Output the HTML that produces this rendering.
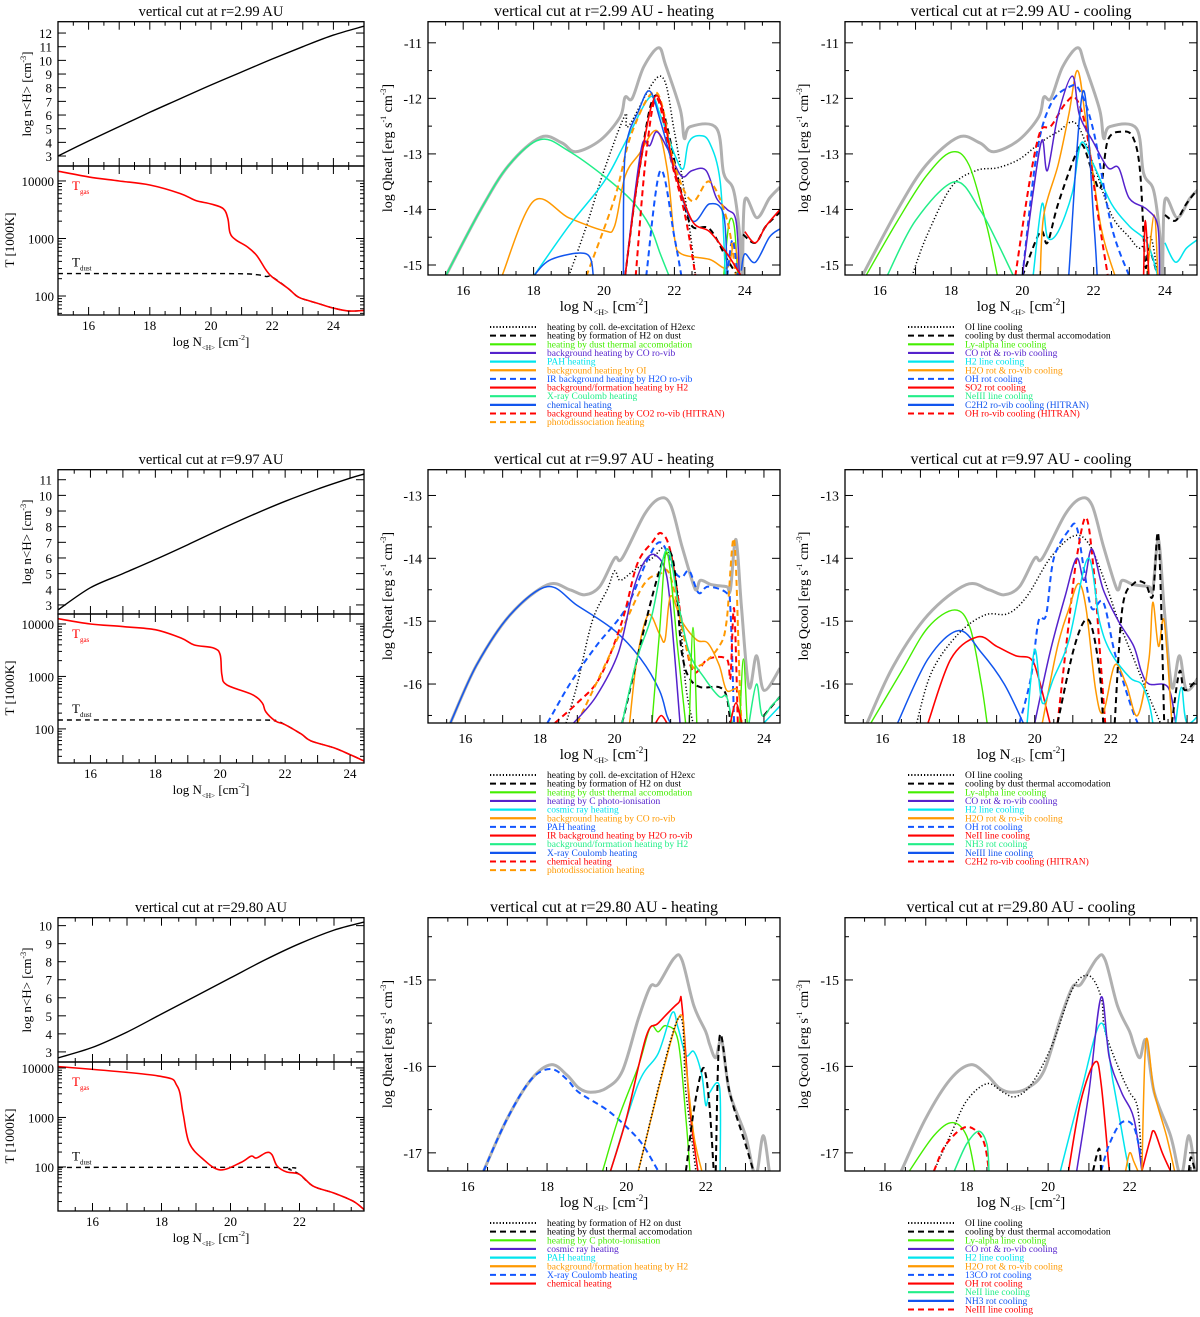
<!DOCTYPE html>
<html><head><meta charset="utf-8"><style>
html,body{margin:0;padding:0;background:#fff;}
svg{display:block;font-family:"Liberation Serif",serif;}
</style></head>
<body>
<svg id="fig" width="1200" height="1317" viewBox="0 0 1200 1317" xmlns="http://www.w3.org/2000/svg"></svg>
<script>
// ===== DATA (x = log N<H>, y = log value) =====
// Row 1 (r=2.99 AU)
const r1_nH=[[15,3.0],[16,4.1],[17,5.15],[18,6.2],[19,7.2],[20,8.2],[21,9.15],[22,10.1],[23,11.0],[24,11.85],[25,12.5]];
const r1_Tgas=[[15,4.17],[16,4.07],[17,4.0],[18,3.93],[19,3.78],[19.5,3.66],[20,3.6],[20.4,3.52],[20.55,3.35],[20.62,3.1],[20.8,2.98],[21.2,2.85],[21.5,2.7],[21.8,2.45],[22.0,2.33],[22.5,2.14],[22.8,2.0],[23,1.95],[23.5,1.87],[24,1.79],[24.5,1.74],[25,1.75]];
const r1_Tdust=[[15,2.39],[20.5,2.39],[21.5,2.37],[21.8,2.34],[22.0,2.33],[22.5,2.14],[22.8,2.0],[23,1.95],[23.5,1.87],[24,1.79],[24.5,1.74],[25,1.75]];
const r1_total=[[15.5,-15.2],[16.5,-14.0],[17.3,-13.2],[18.2,-12.7],[18.8,-12.8],[19.2,-12.96],[19.9,-12.75],[20.46,-12.33],[20.6,-11.98],[20.8,-12.0],[21.13,-11.43],[21.55,-11.09],[21.75,-11.4],[22.17,-12.21],[22.28,-12.72],[22.45,-12.51],[23.2,-12.54],[23.4,-13.35],[23.68,-13.65],[23.85,-14.42],[23.93,-15.2],[24.0,-13.83],[24.35,-14.15],[24.7,-13.8],[25,-13.6]];
const r1h_h2exc=[[19,-15.2],[19.5,-14.3],[20,-13.3],[20.6,-12.3],[20.7,-12.5],[21.6,-11.6],[22,-12.6],[22.4,-14.2],[22.6,-15.2]];
const r1h_h2dust_a=[[20.6,-15.2],[21.0,-13.3],[21.5,-11.95],[22.2,-13.7],[22.5,-14.3],[23,-14.35],[23.5,-14.9],[23.8,-15.2]];
const r1h_h2dust_b=[[23.95,-14.45],[24.3,-14.6],[24.6,-14.3],[25,-14.05]];
const r1h_dust=[[23.4,-15.2],[23.55,-14.25],[23.7,-14.3],[23.8,-15.2]];
const r1h_co=[[20.6,-15.2],[20.9,-13.6],[21.1,-12.8],[21.3,-12.85],[21.5,-12.6],[21.8,-12.9],[22.2,-13.4],[22.5,-13.3],[22.9,-13.3],[23.2,-13.8],[23.5,-14.0],[23.75,-14.2],[23.85,-15.2]];
const r1h_pah=[[18,-15.2],[19,-14.3],[20,-13.5],[20.6,-12.8],[21.3,-11.98],[21.6,-12.3],[22,-13.0],[22.25,-13.27],[22.4,-12.8],[22.7,-12.67],[23.0,-12.8],[23.3,-13.5],[23.45,-15.2]];
const r1h_oi=[[17.1,-15.2],[18,-13.85],[19,-14.15],[20,-14.38],[20.3,-14.3],[20.6,-13.4],[21,-13.0],[21.5,-12.58],[21.8,-13.3],[22.0,-14.5],[22.2,-14.8],[23,-14.9],[23.5,-15.05],[23.7,-14.6],[23.85,-15.2]];
const r1h_h2o_a=[[21.2,-15.2],[21.6,-13.3],[22,-14.5],[22.2,-15.2]];
const r1h_h2o_b=[[23.5,-15.2],[23.65,-14.55],[23.8,-15.2]];
const r1h_h2_a=[[20.6,-15.2],[21.0,-13.3],[21.5,-11.95],[22.0,-13.3],[22.5,-14.2],[23,-14.4],[23.5,-14.8],[23.8,-15.1],[23.9,-15.2]];
const r1h_h2_b=[[24,-14.4],[24.3,-14.6],[24.6,-14.3],[25,-14.0]];
const r1h_xray=[[15.5,-15.2],[16.5,-14],[17.3,-13.2],[18.2,-12.74],[19,-12.95],[20,-13.4],[20.8,-13.85],[21.3,-14.3],[21.6,-14.8],[21.85,-15.2]];
const r1h_chem_a=[[18,-15.2],[18.5,-14.9],[19.5,-14.8],[19.7,-15.2]];
const r1h_chem_b=[[20.55,-15.2],[20.6,-13.0],[21,-12.2],[21.3,-11.87],[21.6,-12.4],[22,-13.3],[22.5,-14.2],[23,-13.9],[23.4,-14.1],[23.5,-15.2]];
const r1h_chem_c=[[23.9,-15.1],[24,-14.8],[24.3,-14.95],[24.7,-14.5],[25,-14.35]];
const r1h_co2=[[20.9,-15.2],[21.2,-13.0],[21.5,-12.0],[21.9,-13.1],[22.3,-14.1],[22.6,-15.2]];
const r1h_photo=[[19.5,-15.2],[20.3,-13.8],[20.8,-12.6],[21.5,-11.9],[22,-13.2],[22.5,-13.85],[23,-13.5],[23.5,-14.2],[23.75,-15.2]];
const r1c_oi=[[16.9,-15.2],[17.3,-14.5],[18,-13.6],[18.7,-13.3],[19.3,-13.25],[19.9,-13.1],[20.5,-12.8],[21.0,-12.6],[21.5,-12.45],[22,-13.2],[22.5,-14.1],[23,-14.5],[23.3,-14.7],[23.6,-14.5],[23.8,-15.2]];
const r1c_dust_a=[[20.0,-15.2],[20.5,-14.4],[20.7,-14.6],[21.0,-13.9],[21.5,-13.0],[21.7,-12.85],[22.0,-13.4],[22.2,-13.6],[22.4,-12.75],[22.8,-12.6],[23.1,-12.7],[23.3,-13.3],[23.45,-15.0],[23.55,-14.7],[23.8,-15.2]];
const r1c_dust_b=[[24.0,-14.1],[24.3,-14.2],[24.6,-13.9],[24.9,-13.65]];
const r1c_lya=[[15.6,-15.2],[16.5,-14.2],[17.3,-13.4],[18.0,-12.97],[18.5,-13.2],[19.0,-14.3],[19.3,-15.2]];
const r1c_co=[[20.0,-15.2],[20.3,-13.7],[20.55,-12.75],[20.7,-13.3],[21.0,-12.3],[21.4,-11.6],[21.6,-12.3],[22,-12.8],[22.4,-13.25],[22.7,-13.25],[23.0,-13.8],[23.5,-14.0],[23.8,-14.3],[23.85,-15.2]];
const r1c_h2_a=[[20.3,-15.2],[20.55,-13.9],[20.7,-14.5],[21.0,-14.4],[21.4,-13.7],[21.65,-12.8],[22,-13.2],[22.5,-13.9],[23,-14.3],[23.5,-14.6],[23.8,-15.2]];
const r1c_h2_b=[[24,-14.6],[24.3,-14.95],[24.6,-14.7],[24.9,-14.55]];
const r1c_h2o_a=[[20.5,-15.2],[20.6,-14.1],[21.0,-13.2],[21.3,-12.3],[21.55,-11.5],[21.8,-12.5],[22.2,-14.3],[22.6,-15.2]];
const r1c_h2o_b=[[23.5,-15.2],[23.7,-14.1],[23.8,-15.2]];
const r1c_oh=[[20.0,-15.2],[20.4,-13.0],[20.8,-12.1],[21.3,-11.8],[21.6,-11.85],[22,-12.6],[22.5,-14.3],[23.0,-15.2]];
const r1c_so2=[[23.4,-15.2],[23.45,-14.2],[23.55,-15.2]];
const r1c_ne3=[[16.2,-15.2],[17,-14.2],[18.1,-13.5],[18.8,-14.0],[19.3,-14.6],[19.75,-15.2]];
const r1c_c2h2=[[21.3,-15.2],[21.7,-11.87],[22.0,-14.2],[22.1,-15.2]];
const r1c_ohh=[[19.8,-15.2],[20.2,-13.5],[20.5,-12.6],[20.8,-12.5],[21.2,-12.1],[21.5,-12.0],[21.8,-12.6],[22.1,-14.0],[22.4,-15.2]];
// Row 2 (r=9.97 AU)
const r2_nH=[[15,2.68],[16,4.1],[17,5.0],[18,5.9],[19,6.85],[20,7.82],[21,8.75],[22,9.62],[23,10.4],[24,11.1],[24.43,11.36]];
const r2_Tgas=[[15,4.1],[16,4.0],[17,3.95],[18,3.89],[18.8,3.73],[19.2,3.6],[19.8,3.54],[20,3.41],[20.05,3.03],[20.2,2.84],[21,2.65],[21.3,2.49],[21.4,2.33],[21.7,2.15],[22,2.08],[22.5,1.9],[22.8,1.77],[23.5,1.64],[24,1.51],[24.43,1.39]];
const r2_Tdust=[[15,2.17],[21,2.17],[21.7,2.15],[22,2.08],[22.5,1.9],[22.8,1.77],[23.5,1.64],[24,1.51],[24.43,1.39]];
const r2_total=[[15.6,-16.62],[16.3,-15.7],[17.2,-14.9],[18.2,-14.42],[18.8,-14.5],[19.2,-14.58],[19.6,-14.45],[20.0,-14.0],[20.2,-14.0],[20.8,-13.3],[21.2,-13.05],[21.5,-13.15],[21.8,-13.8],[22.1,-14.4],[22.2,-14.5],[22.3,-14.35],[22.6,-14.42],[23.0,-14.45],[23.1,-14.5],[23.25,-13.7],[23.4,-14.8],[23.6,-16.05],[23.8,-15.55],[24.0,-16.1],[24.43,-15.75]];
const r2h_h2exc=[[18.7,-16.62],[19,-16.0],[19.4,-15.0],[19.8,-14.5],[20.0,-14.2],[20.15,-14.35],[20.5,-14.2],[21.0,-14.0],[21.4,-13.85],[21.7,-14.6],[21.9,-16.0],[22.1,-16.62]];
const r2h_h2dust_a=[[20.2,-16.62],[21.4,-13.9],[21.8,-15.5],[22.0,-15.9],[22.3,-16.05],[22.8,-16.05],[23.0,-16.2],[23.1,-16.62]];
const r2h_h2dust_b=[[24.0,-16.5],[24.43,-16.2]];
const r2h_dust_a=[[21.0,-16.62],[21.2,-15.2],[21.4,-13.9],[21.7,-15.5],[21.9,-16.62]];
const r2h_dust_b=[[22.0,-16.62],[22.1,-15.1],[22.2,-16.62]];
const r2h_dust_c=[[23.35,-16.62],[23.45,-15.6],[23.55,-16.62]];
const r2h_cphot=[[18.9,-16.62],[19.5,-16.2],[20.1,-15.5],[20.5,-14.5],[20.8,-14.05],[21.1,-13.95],[21.4,-14.3],[21.6,-15.5],[21.75,-16.62]];
const r2h_cosmic=[[24.0,-16.62],[24.43,-16.35]];
const r2h_co=[[20.4,-16.62],[20.6,-15.6],[20.9,-14.9],[21.2,-15.2],[21.35,-15.3],[21.5,-14.6],[21.8,-15.0],[22.2,-15.3],[22.5,-15.35],[22.8,-15.7],[23.0,-16.1],[23.3,-16.1],[23.4,-16.62]];
const r2h_pah=[[18.2,-16.62],[18.8,-16.0],[19.5,-15.4],[20.3,-14.8],[20.9,-14.0],[21.25,-13.75],[21.6,-14.2],[21.8,-14.3],[22.0,-14.2],[22.25,-14.55],[22.5,-14.45],[23.0,-14.55],[23.1,-14.8],[23.2,-16.62]];
const r2h_h2o_a=[[21.1,-16.62],[21.25,-16.5],[21.4,-16.62]];
const r2h_h2o_b=[[23.1,-16.62],[23.25,-16.3],[23.4,-16.62]];
const r2h_h2_a=[[20.2,-16.62],[20.6,-15.6],[21.0,-14.9],[21.4,-13.85],[21.7,-14.7],[22.0,-15.5],[22.4,-15.9],[22.8,-16.2],[23.0,-16.2],[23.15,-16.62]];
const r2h_h2_b=[[23.6,-16.62],[23.8,-16.0],[23.95,-16.5],[24.2,-16.35],[24.43,-16.2]];
const r2h_xray=[[15.6,-16.62],[16.3,-15.7],[17.2,-14.9],[18.2,-14.45],[19,-14.75],[20,-15.15],[20.7,-15.6],[21.2,-16.1],[21.4,-16.5],[21.5,-16.62]];
const r2h_chem=[[18.4,-16.62],[19,-16.3],[19.6,-15.9],[20.2,-15.0],[20.6,-14.1],[21.0,-13.75],[21.25,-13.6],[21.5,-13.9],[21.8,-15.0],[22.1,-15.8],[22.5,-15.6],[23.0,-15.6],[23.1,-15.9],[23.2,-14.8],[23.3,-16.62]];
const r2h_photo=[[19.0,-16.62],[19.5,-16.0],[20.3,-15.0],[20.8,-14.4],[21.2,-14.25],[21.5,-14.3],[22.0,-15.6],[22.3,-15.7],[22.8,-15.4],[23.0,-15.0],[23.2,-13.7],[23.35,-16.0],[23.4,-16.62]];
const r2c_oi=[[16.9,-16.62],[17.3,-15.8],[18.0,-15.2],[18.7,-14.9],[19.3,-14.88],[19.8,-14.6],[20.4,-14.0],[21.0,-13.65],[21.4,-13.75],[21.8,-14.3],[22.2,-15.0],[22.6,-15.6],[23.0,-16.2],[23.3,-16.62]];
const r2c_dust_a=[[20.6,-16.62],[21.0,-15.5],[21.3,-15.0],[21.5,-15.1],[21.7,-15.8],[21.8,-16.62]];
const r2c_dust_b=[[22.1,-16.62],[22.3,-14.8],[22.6,-14.4],[22.9,-14.4],[23.1,-14.6],[23.25,-13.65],[23.4,-16.62]];
const r2c_dust_c=[[23.6,-16.62],[23.8,-15.8],[23.95,-16.1],[24.43,-15.8]];
const r2c_lya=[[15.7,-16.62],[16.5,-15.8],[17.2,-15.1],[17.9,-14.82],[18.3,-15.1],[18.6,-16],[18.75,-16.62]];
const r2c_co=[[20.0,-16.62],[20.4,-15.5],[20.8,-14.6],[21.1,-14.0],[21.3,-14.35],[21.5,-13.85],[21.8,-14.5],[22.2,-15.0],[22.6,-15.4],[22.8,-15.8],[23.0,-16.0],[23.5,-16.05],[23.7,-16.62]];
const r2c_h2_a=[[19.8,-16.62],[20.0,-15.45],[20.2,-16.3],[20.5,-15.9],[20.9,-15.3],[21.4,-14.0],[21.7,-15.0],[22.0,-15.5],[22.5,-15.9],[22.8,-16.0],[23.0,-16.3],[23.1,-16.62]];
const r2c_h2_b=[[23.7,-16.62],[23.85,-16.05],[24.0,-16.62],[24.43,-16.4]];
const r2c_h2o=[[20.2,-16.62],[20.6,-15.4],[20.9,-14.8],[21.15,-14.4],[21.35,-14.8],[21.6,-16.1],[21.8,-16.45],[22.1,-15.7],[22.4,-16.0],[22.7,-16.5],[23.0,-15.6],[23.1,-14.7],[23.25,-15.4],[23.4,-15.0],[23.6,-16.62]];
const r2c_oh=[[19.6,-16.62],[19.9,-15.9],[20.1,-15.0],[20.3,-14.9],[20.5,-14.0],[20.9,-13.55],[21.1,-13.5],[21.3,-14.2],[21.5,-14.8],[21.8,-14.7],[22.1,-15.5],[22.5,-16.3],[22.7,-16.62]];
const r2c_ne2=[[17.2,-16.62],[17.8,-15.6],[18.5,-15.25],[19.0,-15.4],[19.5,-15.55],[19.9,-15.6],[20.1,-15.9],[20.4,-16.62]];
const r2c_ne3=[[16.4,-16.62],[17.2,-15.6],[18.0,-15.15],[18.6,-15.5],[19.2,-16.0],[19.7,-16.62]];
const r2c_c2h2=[[20.6,-16.62],[20.9,-15.0],[21.1,-14.0],[21.35,-13.35],[21.55,-14.2],[21.7,-15.4],[21.85,-16.62]];
// Row 3 (r=29.80 AU)
const r3_nH=[[15,2.67],[16,3.25],[17,4.1],[18,5.1],[19,6.1],[20,7.1],[21,8.1],[22,9.0],[23,9.75],[23.87,10.2]];
const r3_Tgas=[[15,4.03],[17.9,3.84],[18.45,3.64],[18.62,3.1],[18.8,2.49],[19.2,2.16],[19.7,1.94],[20.3,2.09],[20.6,2.22],[20.75,2.18],[21.04,2.29],[21.2,2.25],[21.35,2.02],[21.62,1.9],[22,1.85],[22.4,1.61],[22.97,1.48],[23.55,1.31],[23.87,1.14]];
const r3_Tdust=[[15,1.99],[21.3,1.99],[21.7,1.95],[22,1.85],[22.4,1.61],[22.97,1.48],[23.55,1.31],[23.87,1.14]];
const r3_total=[[16.4,-17.21],[17,-16.6],[17.6,-16.15],[18.1,-15.98],[18.5,-16.1],[18.8,-16.25],[19.1,-16.3],[19.5,-16.25],[19.9,-16.05],[20.3,-15.45],[20.6,-15.08],[20.8,-15.05],[21.2,-14.75],[21.4,-14.77],[21.7,-15.3],[22.0,-15.6],[22.1,-15.75],[22.25,-15.9],[22.4,-15.7],[22.6,-16.3],[23.0,-16.8],[23.2,-17.21],[23.3,-17.21],[23.45,-16.8],[23.6,-17.21]];
const r3h_h2dust=[[20.3,-17.21],[21.3,-15.45],[21.5,-16.3],[21.75,-17.21]];
const r3h_dust_a=[[21.5,-17.21],[21.7,-16.5],[21.9,-16.05],[22.0,-16.1],[22.1,-16.5],[22.2,-17.21]];
const r3h_dust_b=[[22.25,-17.21],[22.35,-15.65],[22.6,-16.3],[23.0,-16.9],[23.2,-17.21]];
const r3h_cphot=[[19.4,-17.21],[19.8,-16.6],[20.3,-16.0],[20.6,-15.55],[20.8,-15.6],[21.0,-15.53],[21.3,-15.7],[21.5,-16.6],[21.6,-17.21]];
const r3h_pah=[[19.6,-17.21],[20.3,-16.2],[20.8,-15.85],[21.15,-15.38],[21.3,-15.55],[21.5,-15.87],[21.7,-15.83],[21.9,-16.1],[22.0,-16.45],[22.1,-16.3],[22.35,-16.25],[22.36,-17.21]];
const r3h_h2=[[20.3,-17.21],[21.3,-15.45],[21.5,-16.0],[21.7,-16.8],[21.9,-17.21]];
const r3h_xray=[[16.4,-17.21],[17,-16.6],[17.6,-16.15],[18.1,-16.03],[18.5,-16.15],[18.8,-16.3],[19.5,-16.5],[20.0,-16.7],[20.4,-16.9],[20.8,-17.21]];
const r3h_chem=[[19.6,-17.21],[20.0,-16.6],[20.5,-15.65],[20.8,-15.5],[21.3,-15.27],[21.4,-15.3],[21.6,-16.5],[21.8,-17.21]];
const r3c_oi=[[17.2,-17.21],[17.6,-16.8],[18.0,-16.4],[18.5,-16.2],[18.9,-16.3],[19.2,-16.35],[19.6,-16.2],[20.1,-15.75],[20.6,-15.1],[21.0,-14.95],[21.3,-15.2],[21.4,-15.6],[21.8,-16.1],[22.0,-16.3],[22.2,-16.5],[22.3,-17.21]];
const r3c_dust_a=[[21.1,-17.21],[21.25,-16.95],[21.3,-17.21]];
const r3c_dust_b=[[23.45,-17.21],[23.5,-17.05],[23.6,-17.21]];
const r3c_lya=[[16.6,-17.21],[17.2,-16.8],[17.65,-16.65],[18.0,-16.8],[18.2,-17.21]];
const r3c_co=[[20.7,-17.21],[21.0,-16.3],[21.3,-15.2],[21.5,-15.9],[21.8,-16.3],[22.1,-16.6],[22.3,-17.21]];
const r3c_h2=[[20.3,-17.21],[20.8,-16.3],[21.3,-15.5],[21.6,-16.2],[21.9,-17.0],[22.0,-17.21]];
const r3c_h2o_a=[[21.9,-17.21],[22.0,-17.0],[22.1,-17.1],[22.2,-17.21]];
const r3c_h2o_b=[[22.3,-17.21],[22.4,-15.7],[22.6,-16.3],[22.9,-16.8],[23.1,-17.21]];
const r3c_13co=[[21.3,-17.21],[21.5,-16.9],[21.8,-16.65],[22.1,-16.7],[22.3,-17.1]];
const r3c_oh_a=[[20.5,-17.21],[20.8,-16.4],[21.15,-15.95],[21.3,-16.2],[21.5,-17.21]];
const r3c_oh_b=[[22.3,-17.21],[22.5,-16.85],[22.6,-16.75],[22.8,-17.0],[23.0,-17.21]];
const r3c_ne2=[[17.7,-17.21],[18.0,-16.9],[18.3,-16.75],[18.5,-16.9],[18.55,-17.21]];
const r3c_ne3=[[17.2,-17.21],[17.5,-16.9],[18.0,-16.7],[18.4,-16.85],[18.55,-17.21]];
// Legend labels
const legH1=["heating by coll. de-excitation of H2exc","heating by formation of H2 on dust","heating by dust thermal accomodation","background heating by CO ro-vib","PAH heating","background heating by OI","IR background heating by H2O ro-vib","background/formation heating by H2","X-ray Coulomb heating","chemical heating","background heating by CO2 ro-vib (HITRAN)","photodissociation heating"];
const legC1=["OI line cooling","cooling by dust thermal accomodation","Ly-alpha line cooling","CO rot & ro-vib cooling","H2 line cooling","H2O rot & ro-vib cooling","OH rot cooling","SO2 rot cooling","NeIII line cooling","C2H2 ro-vib cooling (HITRAN)","OH ro-vib cooling (HITRAN)"];
const legH2=["heating by coll. de-excitation of H2exc","heating by formation of H2 on dust","heating by dust thermal accomodation","heating by C photo-ionisation","cosmic ray heating","background heating by CO ro-vib","PAH heating","IR background heating by H2O ro-vib","background/formation heating by H2","X-ray Coulomb heating","chemical heating","photodissociation heating"];
const legC2=["OI line cooling","cooling by dust thermal accomodation","Ly-alpha line cooling","CO rot & ro-vib cooling","H2 line cooling","H2O rot & ro-vib cooling","OH rot cooling","NeII line cooling","NH3 rot cooling","NeIII line cooling","C2H2 ro-vib cooling (HITRAN)"];
const legH3=["heating by formation of H2 on dust","heating by dust thermal accomodation","heating by C photo-ionisation","cosmic ray heating","PAH heating","background/formation heating by H2","X-ray Coulomb heating","chemical heating"];
const legC3=["OI line cooling","cooling by dust thermal accomodation","Ly-alpha line cooling","CO rot & ro-vib cooling","H2 line cooling","H2O rot & ro-vib cooling","13CO rot cooling","OH rot cooling","NeII line cooling","NH3 rot cooling","NeIII line cooling"];

// ===== STYLES =====
const C={dot:["#000",1.5,"1.2,2.2"],dash:["#000",2,"6,4"],green:["#44ee00",1.4,""],purple:["#5522cc",1.5,""],cyan:["#00e5ee",1.5,""],orange:["#ff9900",1.5,""],bdash:["#1155ff",2,"6,4"],red:["#ff0000",1.6,""],spring:["#22ee88",1.5,""],blue:["#1155ee",1.5,""],rdash:["#ff0000",2,"6,4"],odash:["#ff9900",2,"6,4"],gray:["#b0b0b0",3,""],black:["#000",1.4,""],blackdash:["#000",1.4,"5,4"]};
const legStyleH1=["dot","dash","green","purple","cyan","orange","bdash","red","spring","blue","rdash","odash"];
const legStyleC1=["dot","dash","green","purple","cyan","orange","bdash","red","spring","blue","rdash"];
const legStyleH3=["dot","dash","green","purple","cyan","orange","bdash","red"];
const legStyleC3=["dot","dash","green","purple","cyan","orange","bdash","red","spring","blue","rdash"];

const NS="http://www.w3.org/2000/svg";
const svg=document.getElementById('fig');
function mk(tag,parent){const e=document.createElementNS(NS,tag);parent.appendChild(e);return e;}
function smooth(p){let d="M"+p[0][0].toFixed(1)+","+p[0][1].toFixed(1);for(let i=0;i<p.length-1;i++){const p0=p[i-1]||p[i],p1=p[i],p2=p[i+1],p3=p[i+2]||p2;const c1=[p1[0]+(p2[0]-p0[0])/6,p1[1]+(p2[1]-p0[1])/6],c2=[p2[0]-(p3[0]-p1[0])/6,p2[1]-(p3[1]-p1[1])/6];d+=" C"+c1[0].toFixed(1)+","+c1[1].toFixed(1)+" "+c2[0].toFixed(1)+","+c2[1].toFixed(1)+" "+p2[0].toFixed(1)+","+p2[1].toFixed(1);}return d;}
let clipId=0;
function axes(o){
  o.sx=v=>o.x0+(v-o.xmin)/(o.xmax-o.xmin)*(o.x1-o.x0);
  o.sy=v=>o.y1-(v-o.ymin)/(o.ymax-o.ymin)*(o.y1-o.y0);
  const cp=mk('clipPath',svg);cp.setAttribute('id','cp'+(++clipId));
  const r=mk('rect',cp);r.setAttribute('x',o.x0);r.setAttribute('y',o.y0);r.setAttribute('width',o.x1-o.x0);r.setAttribute('height',o.y1-o.y0);
  o.g=mk('g',svg);o.g.setAttribute('clip-path','url(#cp'+clipId+')');
  
  
  return o;
}
function frame(o){
  const f=mk('rect',svg);f.setAttribute('x',o.x0);f.setAttribute('y',o.y0);f.setAttribute('width',o.x1-o.x0);f.setAttribute('height',o.y1-o.y0);f.setAttribute('fill','none');f.setAttribute('stroke','#000');f.setAttribute('stroke-width','1.3');
  
  
}
function tick(x1,y1,x2,y2){const l=mk('line',svg);l.setAttribute('x1',x1);l.setAttribute('y1',y1);l.setAttribute('x2',x2);l.setAttribute('y2',y2);l.setAttribute('stroke','#000');l.setAttribute('stroke-width','1');return l;}
function text(x,y,s,size,anchor,parent,color){const t=mk('text',parent||svg);t.setAttribute('x',x);t.setAttribute('y',y);t.setAttribute('font-size',size);t.setAttribute('text-anchor',anchor||'middle');if(color)t.setAttribute('fill',color);t.textContent=s;return t;}
function xTicks(o,labels,fs,ly){
  for(let v=Math.ceil(o.xmin*2)/2;v<=o.xmax+1e-9;v+=0.5){const X=o.sx(v);const L=(Math.abs(v-Math.round(v))<1e-6)?8:4;tick(X,o.y1,X,o.y1-L);tick(X,o.y0,X,o.y0+L);
    if(labels&&Math.abs(v/2-Math.round(v/2))<1e-6&&v>o.xmin+0.2&&v<o.xmax-0.2){const t=text(X,ly,String(v),fs);}}
}
function yTicksLin(o,step,minor,fs){
  for(let v=Math.ceil(o.ymin/minor)*minor;v<=o.ymax+1e-9;v+=minor){const Y=o.sy(v);const maj=Math.abs(v/step-Math.round(v/step))<1e-6;const L=maj?8:4;tick(o.x0,Y,o.x0+L,Y);tick(o.x1,Y,o.x1-L,Y);
    if(maj&&Y>o.y0+4&&Y<o.y1-4){const t=text(o.x0-6,Y+5,String(Math.round(v)),fs,'end');}}
}
function yTicksLog(o,fs){
  for(let e=1;e<=4;e++){for(let k=1;k<10;k++){const v=e+Math.log10(k);if(v<o.ymin||v>o.ymax)continue;const Y=o.sy(v);const L=k==1?8:4;tick(o.x0,Y,o.x0+L,Y);tick(o.x1,Y,o.x1-L,Y);
    if(k==1){const t=text(o.x0-4,Y+5,String(Math.pow(10,e)),fs,'end');}}}
}
function curve(o,data,st,name){
  const s=C[st];const p=mk('path',o.g);p.setAttribute('d',smooth(data.map(d=>[o.sx(d[0]),o.sy(d[1])])));p.setAttribute('fill','none');p.setAttribute('stroke',s[0]);p.setAttribute('stroke-width',s[1]);if(s[2])p.setAttribute('stroke-dasharray',s[2]);p.setAttribute('stroke-linejoin','round');
  
  
}
function xLabel(cx,y,fs){
  const t=mk('text',svg);t.setAttribute('x',cx);t.setAttribute('y',y);t.setAttribute('font-size',fs);t.setAttribute('text-anchor','middle');
  
  
  t.innerHTML='log N<tspan font-size="'+(fs*0.55)+'" dy="4">&lt;H&gt;</tspan><tspan dy="-4"> [cm</tspan><tspan font-size="'+(fs*0.6)+'" dy="-6">-2</tspan><tspan dy="6">]</tspan>';
}
function yLabel(cx,cy,fs,main,name){
  const t=mk('text',svg);t.setAttribute('transform','translate('+cx+','+cy+') rotate(-90)');t.setAttribute('font-size',fs);t.setAttribute('text-anchor','middle');
  
  
  t.innerHTML=main;
}
function legend(x,y,labels,styles,name){
  const g=mk('g',svg);
  
  
  labels.forEach((lab,i)=>{const s=C[styles[i]];const Y=y+i*8.65;const l=mk('line',g);l.setAttribute('x1',x);l.setAttribute('x2',x+46);l.setAttribute('y1',Y);l.setAttribute('y2',Y);l.setAttribute('stroke',s[0]);l.setAttribute('stroke-width',s[2]?2:2.2);if(s[2])l.setAttribute('stroke-dasharray',s[2]=="1.2,2.2"?"1.2,2":"6,4");
    const t=text(x+57,Y+3,lab,9.5,'start',g,s[0]==="#000"?"#000":s[0]);
    
    });
}

const rows=[
 {dy:0,r:"2.99",xmax:25,cxmax:24.9,nmin:2.27,nmax:12.83,tmin:1.67,tmax:4.26,qmin:-15.18,qmax:-10.62,
  nH:r1_nH,Tg:r1_Tgas,Td:r1_Tdust,total:r1_total,
  heat:[[r1h_h2exc,"dot"],[r1h_h2dust_a,"dash"],[r1h_h2dust_b,"dash"],[r1h_dust,"green"],[r1h_xray,"spring"],[r1h_oi,"orange"],[r1h_pah,"cyan"],[r1h_co,"purple"],[r1h_h2o_a,"bdash"],[r1h_h2o_b,"bdash"],[r1h_photo,"odash"],[r1h_co2,"rdash"],[r1h_chem_a,"blue"],[r1h_chem_b,"blue"],[r1h_chem_c,"blue"],[r1h_h2_a,"red"],[r1h_h2_b,"red"]],
  cool:[[r1c_oi,"dot"],[r1c_lya,"green"],[r1c_ne3,"spring"],[r1c_dust_a,"dash"],[r1c_dust_b,"dash"],[r1c_h2_a,"cyan"],[r1c_h2_b,"cyan"],[r1c_h2o_a,"orange"],[r1c_h2o_b,"orange"],[r1c_oh,"bdash"],[r1c_ohh,"rdash"],[r1c_co,"purple"],[r1c_c2h2,"blue"],[r1c_so2,"red"]],
  legH:legH1,legHs:legStyleH1,legC:legC1,legCs:legStyleC1},
 {dy:448,r:"9.97",xmax:24.43,cxmax:24.26,nmin:2.42,nmax:11.64,tmin:1.35,tmax:4.19,qmin:-16.62,qmax:-12.59,
  nH:r2_nH,Tg:r2_Tgas,Td:r2_Tdust,total:r2_total,
  heat:[[r2h_xray,"blue"],[r2h_h2exc,"dot"],[r2h_pah,"bdash"],[r2h_chem,"rdash"],[r2h_photo,"odash"],[r2h_cphot,"purple"],[r2h_co,"orange"],[r2h_h2dust_a,"dash"],[r2h_h2dust_b,"dash"],[r2h_h2_a,"spring"],[r2h_h2_b,"spring"],[r2h_dust_a,"green"],[r2h_dust_b,"green"],[r2h_dust_c,"green"],[r2h_cosmic,"cyan"],[r2h_h2o_a,"red"],[r2h_h2o_b,"red"]],
  cool:[[r2c_lya,"green"],[r2c_ne3,"blue"],[r2c_ne2,"red"],[r2c_oi,"dot"],[r2c_oh,"bdash"],[r2c_c2h2,"rdash"],[r2c_co,"purple"],[r2c_h2o,"orange"],[r2c_h2_a,"cyan"],[r2c_h2_b,"cyan"],[r2c_dust_a,"dash"],[r2c_dust_b,"dash"],[r2c_dust_c,"dash"]],
  legH:legH2,legHs:legStyleH1,legC:legC2,legCs:["dot","dash","green","purple","cyan","orange","bdash","red","spring","blue","rdash"]},
 {dy:896,r:"29.80",xmax:23.87,cxmax:23.65,nmin:2.44,nmax:10.44,tmin:1.11,tmax:4.12,qmin:-17.21,qmax:-14.28,
  nH:r3_nH,Tg:r3_Tgas,Td:r3_Tdust,total:r3_total,
  heat:[[r3h_xray,"bdash"],[r3h_cphot,"green"],[r3h_pah,"cyan"],[r3h_chem,"red"],[r3h_h2,"orange"],[r3h_h2dust,"dot"],[r3h_dust_a,"dash"],[r3h_dust_b,"dash"]],
  cool:[[r3c_oi,"dot"],[r3c_lya,"green"],[r3c_ne3,"rdash"],[r3c_ne2,"spring"],[r3c_h2,"cyan"],[r3c_co,"purple"],[r3c_oh_a,"red"],[r3c_oh_b,"red"],[r3c_13co,"bdash"],[r3c_h2o_a,"orange"],[r3c_h2o_b,"orange"],[r3c_dust_a,"dash"],[r3c_dust_b,"dash"]],
  legH:legH3,legHs:legStyleH3,legC:legC3,legCs:legStyleC3}
];

rows.forEach((R,ri)=>{
  const d=R.dy;
  const tn=text(211,d+16,"vertical cut at r="+R.r+" AU",14.5);
  
  
  const A=axes({name:'density-r'+(ri+1),x0:58,x1:364,y0:d+21.7,y1:d+166,xmin:15,xmax:R.xmax,ymin:R.nmin,ymax:R.nmax});
  curve(A,R.nH,"black","density-curve");
  frame(A);xTicks(A,false);yTicksLin(A,1,1,13);
  yLabel(31,d+94,13,'log n&lt;H&gt; [cm<tspan font-size="8" dy="-5">-3</tspan><tspan dy="5">]</tspan>','density-y-axis-title');
  const B=axes({name:'temperature-r'+(ri+1),x0:58,x1:364,y0:d+166,y1:d+315,xmin:15,xmax:R.xmax,ymin:R.tmin,ymax:R.tmax});
  curve(B,R.Td,"blackdash","tdust-curve");
  curve(B,R.Tg,"red","tgas-curve");
  frame(B);xTicks(B,true,13,d+330);yTicksLog(B,13);
  yLabel(14,d+240,13,'T [1000K]','temperature-y-axis-title');
  xLabel(211,d+346,13);
  const tg=mk('text',svg);tg.setAttribute('x',72);tg.setAttribute('y',d+190);tg.setAttribute('font-size',13);tg.setAttribute('fill','#ff0000');tg.innerHTML='T<tspan font-size="7" dy="4">gas</tspan>';
  
  
  const td=mk('text',svg);td.setAttribute('x',72);td.setAttribute('y',B.sy(R.Td[0][1])-7);td.setAttribute('font-size',13);td.innerHTML='T<tspan font-size="7" dy="4">dust</tspan>';
  
  
  const th=text(604,d+16,"vertical cut at r="+R.r+" AU - heating",16);
  
  
  const H=axes({name:'heating-r'+(ri+1),x0:428,x1:780,y0:d+21.7,y1:d+275,xmin:15,xmax:R.xmax,ymin:R.qmin,ymax:R.qmax});
  curve(H,R.total,"gray","total-heating");
  R.heat.forEach(c=>curve(H,c[0],c[1],"heating-curve-"+c[1]));
  frame(H);xTicks(H,true,14,d+295);yTicksLin(H,1,0.5,14);
  yLabel(392,d+148,14,'log Qheat [erg s<tspan font-size="8" dy="-6">-1</tspan><tspan dy="6"> cm</tspan><tspan font-size="8" dy="-6">-3</tspan><tspan dy="6">]</tspan>','heating-y-axis-title');
  xLabel(604,d+311,15);
  legend(490,d+327,R.legH,R.legHs,'heating-legend');
  const tc=text(1021,d+16,"vertical cut at r="+R.r+" AU - cooling",16);
  
  
  const K=axes({name:'cooling-r'+(ri+1),x0:845,x1:1197,y0:d+21.7,y1:d+275,xmin:15.02,xmax:R.cxmax,ymin:R.qmin,ymax:R.qmax});
  curve(K,R.total,"gray","total-cooling");
  R.cool.forEach(c=>curve(K,c[0],c[1],"cooling-curve-"+c[1]));
  frame(K);xTicks(K,true,14,d+295);yTicksLin(K,1,0.5,14);
  yLabel(808,d+148,14,'log Qcool [erg s<tspan font-size="8" dy="-6">-1</tspan><tspan dy="6"> cm</tspan><tspan font-size="8" dy="-6">-3</tspan><tspan dy="6">]</tspan>','cooling-y-axis-title');
  xLabel(1021,d+311,15);
  legend(908,d+327,R.legC,R.legCs,'cooling-legend');
});
</script>
</body></html>
